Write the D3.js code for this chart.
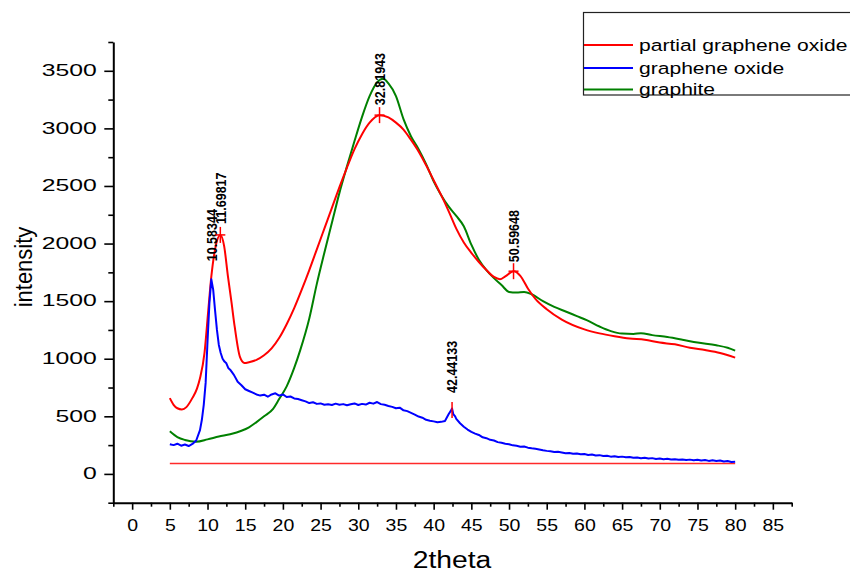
<!DOCTYPE html>
<html>
<head>
<meta charset="utf-8">
<script src="https://cdn.jsdelivr.net/npm/d3@7"></script>
<style>
  html, body { margin: 0; padding: 0; background: #fff; }
  svg { display: block; font-family: "Liberation Sans", Arial, sans-serif; }
</style>
</head>
<body>
<svg id="chart" width="850" height="572"></svg>
<script>
// XRD patterns: intensity vs 2theta
const seriesNames = ["partial graphene oxide", "graphene oxide", "graphite"];
const seriesColors = ["#ff0000", "#0000ff", "#008000"];

const partialGrapheneOxide = [
  [5, 658], [5.5, 600], [6, 570], [6.6, 560], [7.2, 580], [8, 660], [8.6, 740], [9, 830],
  [9.6, 1050], [10.1, 1420], [10.5, 1710], [11, 1950], [11.7, 2075], [12.2, 1980], [12.7, 1720],
  [13.2, 1480], [13.6, 1280], [14.3, 1016], [14.9, 963], [15.5, 970], [16.5, 990], [17.5, 1030],
  [18.5, 1090], [19.5, 1180], [20.5, 1300], [21.5, 1440], [22.5, 1600], [23.5, 1770], [24.5, 1950],
  [25.5, 2130], [26.5, 2310], [27.5, 2490], [28.5, 2660], [29.5, 2820], [30.5, 2950], [31.5, 3050],
  [32.8, 3115], [34, 3095], [35, 3050], [36, 2990], [37, 2900], [38, 2800], [39, 2680], [40, 2550],
  [41, 2420], [42, 2280], [43, 2130], [44, 2010], [45, 1920], [46, 1840], [47, 1770], [48, 1710],
  [48.8, 1690], [49.5, 1715], [50.6, 1760], [51.5, 1720], [52.5, 1610], [53.5, 1520], [55, 1430],
  [57, 1340], [60, 1255], [62, 1220], [64, 1195], [66, 1175], [68, 1165], [70, 1140], [72, 1125],
  [74, 1095], [76, 1075], [78, 1050], [80, 1010]
];

const grapheneOxide = [
  [5, 258], [5.5, 250], [6, 262], [6.5, 245], [7, 255], [7.5, 242], [8, 260], [8.5, 290],
  [9, 380], [9.25, 470], [9.5, 600], [9.75, 790], [10, 1150], [10.25, 1480], [10.5, 1690],
  [10.75, 1600], [11, 1420], [11.25, 1250], [11.5, 1120], [11.75, 1050], [12, 1000], [12.25, 975],
  [12.5, 960], [12.75, 920], [13, 905], [13.5, 860], [14, 800], [14.5, 770], [15, 735], [15.5, 720],
  [16, 705], [16.5, 690], [17, 680], [17.5, 688], [18, 670], [18.5, 690], [19, 700], [19.5, 680],
  [20, 690], [20.5, 668], [21, 672], [21.5, 655], [22, 650], [22.5, 640], [23, 630], [23.5, 615],
  [24, 622], [24.5, 608], [25, 612], [25.5, 600], [26, 605], [26.5, 598], [27, 610], [27.5, 600],
  [28, 606], [28.5, 596], [29, 604], [29.5, 612], [30, 598], [30.5, 608], [31, 602], [31.5, 618],
  [32, 610], [32.5, 624], [33, 606], [33.5, 600], [34, 590], [34.5, 582], [35, 570], [35.5, 575],
  [36, 552], [36.5, 545], [37, 530], [37.5, 515], [38, 498], [38.5, 488], [39, 470], [39.5, 462],
  [40, 456], [40.5, 448], [41, 452], [41.5, 460], [41.75, 490], [42, 520], [42.25, 545],
  [42.44, 568], [42.6, 520], [42.85, 500], [43, 478], [43.5, 440], [44, 410], [44.5, 385],
  [45, 365], [45.5, 350], [46, 338], [46.5, 318], [47, 310], [47.5, 296], [48, 290], [48.5, 276],
  [49, 270], [49.5, 262], [50, 258], [50.5, 248], [51, 244], [51.5, 236], [52, 238], [52.5, 228],
  [53, 222], [53.5, 218], [54, 212], [54.5, 205], [55, 200], [55.5, 196], [56, 190], [56.5, 192],
  [57, 186], [57.5, 180], [58, 182], [58.5, 175], [59, 178], [59.5, 170], [60, 172], [60.5, 165],
  [61, 168], [61.5, 160], [62, 163], [62.5, 156], [63, 158], [63.5, 150], [64, 153], [64.5, 146],
  [65, 150], [65.5, 144], [66, 147], [66.5, 140], [67, 143], [67.5, 136], [68, 140], [68.5, 134],
  [69, 137], [69.5, 130], [70, 134], [70.5, 128], [71, 131], [71.5, 125], [72, 128], [72.5, 122],
  [73, 126], [73.5, 120], [74, 124], [74.5, 118], [75, 122], [75.5, 116], [76, 120], [76.5, 113],
  [77, 118], [77.5, 112], [78, 116], [78.5, 108], [79, 112], [79.5, 104], [80, 106]
];

const graphite = [
  [5, 370], [6, 320], [7, 295], [8.5, 280], [10, 300], [11.5, 325], [13, 345], [14.5, 375],
  [15.5, 405], [16.5, 450], [17.5, 500], [18.7, 565], [19.5, 650], [20.5, 760], [21.5, 920],
  [22.3, 1075], [23.5, 1350], [24.5, 1650], [25.5, 1920], [26.5, 2180], [27.5, 2440], [28.5, 2670],
  [29.5, 2890], [30.5, 3100], [31.5, 3280], [32.5, 3400], [33.3, 3430], [34, 3390], [35, 3280],
  [36, 3080], [37, 2930], [38, 2820], [39, 2690], [40, 2540], [41, 2420], [42, 2320], [43, 2240],
  [44, 2150], [45, 1990], [46, 1860], [47, 1770], [48, 1700], [49, 1640], [50, 1580], [51, 1575],
  [52, 1580], [53, 1560], [54.5, 1500], [56, 1450], [57.6, 1408], [59, 1370], [60.3, 1335],
  [62, 1280], [63.5, 1240], [65, 1218], [66.5, 1215], [67.5, 1222], [69, 1205], [71, 1188],
  [73, 1165], [75, 1140], [77.5, 1117], [79, 1095], [80, 1070]
];

// flat reference line under the patterns
const baselineLevel = 90;
const baselineRange = [5, 80];

// labelled peak positions and the series each peak belongs to
const peakX = [10.58344, 11.69817, 32.81943, 42.44133, 50.59648];
const peakY = [1690, 2075, 3115, 555, 1760];
const peakSeries = [1, 0, 0, 1, 0];
const peakMarked = [false, true, true, true, true];

const xTickValues = [0, 5, 10, 15, 20, 25, 30, 35, 40, 45, 50, 55, 60, 65, 70, 75, 80, 85];
const yTickValues = [0, 500, 1000, 1500, 2000, 2500, 3000, 3500];
const xDomain = [-2.5, 87.5];
const yDomain = [-250, 3750];

const svg = d3.select("#chart");

const x = d3.scaleLinear().domain(xDomain).range([113.3, 791.7]);
const y = d3.scaleLinear().domain(yDomain).range([502.7, 42]);

// baseline
svg.append("line")
  .attr("x1", x(baselineRange[0])).attr("x2", x(baselineRange[1]))
  .attr("y1", y(baselineLevel)).attr("y2", y(baselineLevel))
  .attr("stroke", "#ff2a2a").attr("stroke-width", 1.5);

const smooth = d3.line().x(d => x(d[0])).y(d => y(d[1])).curve(d3.curveMonotoneX);
const raw = d3.line().x(d => x(d[0])).y(d => y(d[1]));

svg.append("path").datum(graphite).attr("d", smooth)
  .attr("fill", "none").attr("stroke", seriesColors[2]).attr("stroke-width", 2);
svg.append("path").datum(partialGrapheneOxide).attr("d", smooth)
  .attr("fill", "none").attr("stroke", seriesColors[0]).attr("stroke-width", 2);
svg.append("path").datum(grapheneOxide).attr("d", raw)
  .attr("fill", "none").attr("stroke", seriesColors[1]).attr("stroke-width", 2)
  .attr("stroke-linejoin", "round");

// peak markers and labels
const labelGap = [18, 11, 10, 17, 9];
peakX.forEach((px, i) => {
  const cx = x(px), cy = y(peakY[i]);
  if (peakMarked[i]) {
    svg.append("line").attr("x1", cx).attr("x2", cx).attr("y1", cy - 8).attr("y2", cy + 8)
      .attr("stroke", "#ff0000").attr("stroke-width", 1.5);
    if (peakSeries[i] === 0) {
      svg.append("line").attr("x1", cx - 5).attr("x2", cx + 5).attr("y1", cy).attr("y2", cy)
        .attr("stroke", "#ff0000").attr("stroke-width", 1.5);
    }
  }
  svg.append("text")
    .attr("transform", `translate(${cx},${cy - labelGap[i]}) rotate(-90) scale(1,1.15)`)
    .attr("dy", "0.36em")
    .attr("text-anchor", "start")
    .attr("font-size", 12.5).attr("font-weight", "bold").attr("fill", "#000")
    .text(px.toFixed(5));
});

// axes
const minorX = d3.range(xDomain[0], xDomain[1] + 0.01, 2.5).filter(v => v % 5 !== 0);
const minorY = d3.range(yDomain[0], yDomain[1] + 1, 250).filter(v => v % 500 !== 0);

const xAxisG = svg.append("g").attr("transform", `translate(0,${y(yDomain[0])})`);
xAxisG.append("g").call(d3.axisBottom(x).tickValues(minorX).tickSize(4).tickFormat(""))
  .call(g => g.select(".domain").remove());
xAxisG.append("g").call(d3.axisBottom(x).tickValues(xTickValues).tickSize(7).tickSizeOuter(0)
    .tickFormat(d3.format("d")))
  .call(g => g.select(".domain").attr("stroke-width", 2))
  .call(g => g.selectAll(".tick text")
    .attr("y", null).attr("dy", null)
    .attr("transform", "translate(0,28) scale(1.22,1)")
    .attr("font-size", 16).attr("font-family", "Liberation Sans, Arial, sans-serif")
    .attr("fill", "#000"));
xAxisG.selectAll(".tick line").attr("stroke-width", 1.6);

const yAxisG = svg.append("g").attr("transform", `translate(${x(xDomain[0])},0)`);
yAxisG.append("g").call(d3.axisLeft(y).tickValues(minorY).tickSize(5).tickFormat(""))
  .call(g => g.select(".domain").remove());
yAxisG.append("g").call(d3.axisLeft(y).tickValues(yTickValues).tickSize(9).tickSizeOuter(0)
    .tickFormat(d3.format("d")))
  .call(g => g.select(".domain").attr("stroke-width", 2))
  .call(g => g.selectAll(".tick text")
    .attr("x", null).attr("dy", "0.35em")
    .attr("transform", "translate(-16.5,-1) scale(1.5,1)")
    .attr("font-size", 16.5).attr("font-family", "Liberation Sans, Arial, sans-serif")
    .attr("fill", "#000"));
yAxisG.selectAll(".tick line").attr("stroke-width", 1.6);

// axis titles
svg.append("text")
  .attr("transform", "translate(452,568) scale(1.23,1)")
  .attr("text-anchor", "middle").attr("font-size", 23).attr("fill", "#000")
  .text("2theta");
svg.append("text")
  .attr("transform", "translate(24,267) rotate(-90) scale(1,1.1)")
  .attr("text-anchor", "middle").attr("dy", "0.35em").attr("font-size", 22).attr("fill", "#000")
  .text("intensity");

// legend
const legend = svg.append("g");
legend.append("rect")
  .attr("x", 583.5).attr("y", 12.5).attr("width", 300).attr("height", 82.5)
  .attr("fill", "#fff").attr("stroke", "#222").attr("stroke-width", 1.2);
const legendRows = [45, 68, 89.5];
seriesNames.forEach((name, i) => {
  legend.append("line")
    .attr("x1", 584).attr("x2", 633).attr("y1", legendRows[i]).attr("y2", legendRows[i])
    .attr("stroke", seriesColors[i]).attr("stroke-width", 2);
  legend.append("text")
    .attr("transform", `translate(639,${legendRows[i] + 5.5}) scale(1.24,1)`)
    .attr("font-size", 17).attr("fill", "#000")
    .text(name);
});
</script>
</body>
</html>
